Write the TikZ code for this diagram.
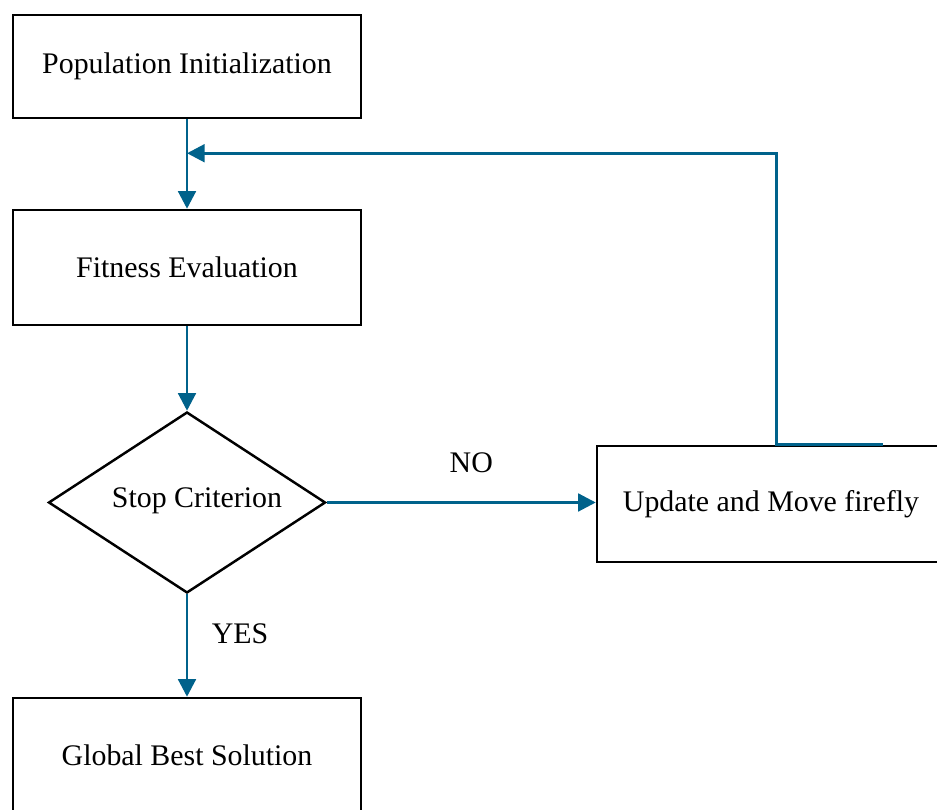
\documentclass[tikz,border=0pt]{standalone}
\usepackage{fontspec}
\setmainfont{Liberation Serif}
\definecolor{flowblue}{RGB}{0, 98, 139}
\usetikzlibrary{
    shapes.geometric,
    arrows.meta,
    positioning,
    calc
}

\begin{document}
\begin{tikzpicture}[
        stepbox/.style={draw=black, line width=1.4pt, fill=white, minimum width=6.96cm, font=\fontsize{17}{20}\selectfont},
        decision/.style={diamond, draw=black, line width=1.4pt, inner sep=0pt, minimum width=5.54cm, minimum height=3.62cm, font=\fontsize{17}{20}\selectfont},
        flow/.style={draw=flowblue, line width=1.7pt, -{Triangle[length=10pt, width=10pt]}},
        flowlabel/.style={font=\fontsize{17}{20}\selectfont, text=black}
    ]
    \useasboundingbox (0,0) rectangle (18.74,16.2);

    % Boxes down the left side
    \node[stepbox, minimum height=2.06cm] (init) at (3.74,14.87) {Population Initialization};
    \node[stepbox, minimum height=2.30cm] (fitness) at (3.74,10.85) {Fitness Evaluation};
    \node[decision] (stop) at (3.74,6.15) {\smash{\makebox[0pt]{\hspace{0.4cm}\raisebox{-0.1cm}{Stop Criterion}}}};
    \node[stepbox, minimum height=2.30cm] (best) at (3.74,1.09) {Global Best Solution};

    % Update box on the right
    \node[stepbox, minimum height=2.32cm] (update) at (15.42,6.12) {Update and Move firefly\hspace{0.25cm}};

    % Feedback point
    \coordinate (loop) at ($(init.south)!0.38!(fitness.north)$);

    % Connectors
    \draw[flow] (init) -- (fitness);
    \draw[flow] (fitness) -- (stop);
    \draw[flow] (stop.east) -- node[flowlabel, above=0.45cm, xshift=0.2cm] {NO} (stop.east -| update.west);
    \draw[flow] (stop) -- node[flowlabel, right=0.35cm, yshift=0.24cm] {YES} (best);
    \draw[flow] ([xshift=2.24cm]update.north) -- ([xshift=0.1cm]update.north) |- (loop);
\end{tikzpicture}
\end{document}
